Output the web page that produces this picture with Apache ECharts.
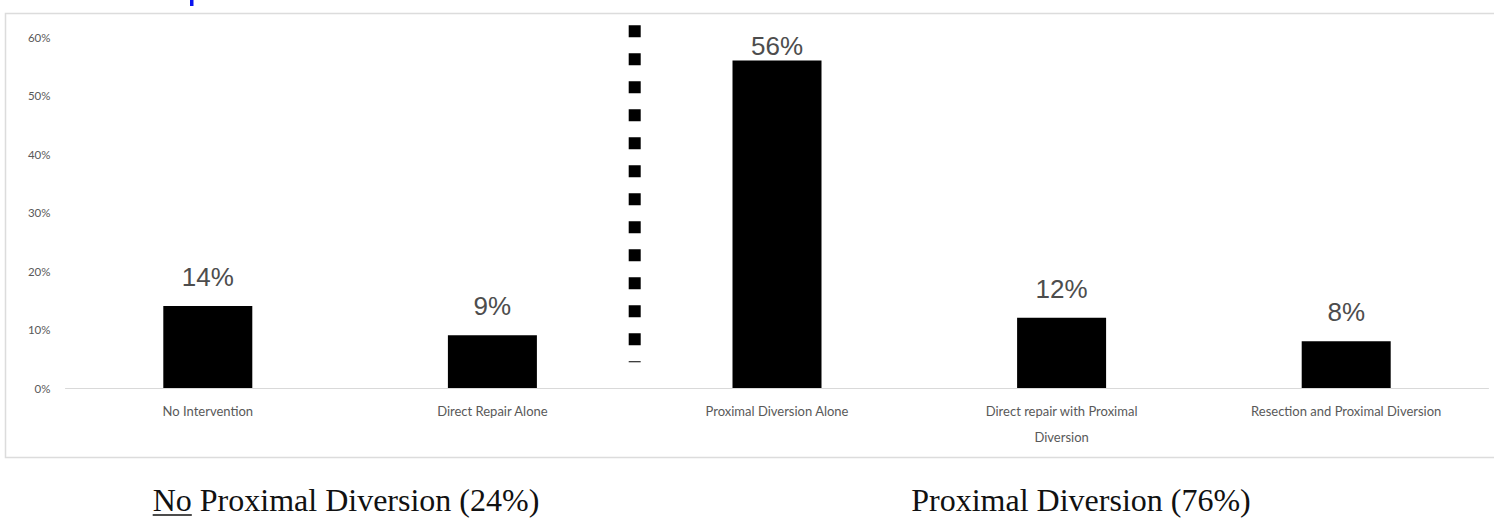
<!DOCTYPE html>
<html>
<head>
<meta charset="utf-8">
<title>Management of injuries</title>
<script src="https://cdn.jsdelivr.net/npm/echarts@6/dist/echarts.min.js"></script>
<style>
  html, body { margin: 0; padding: 0; background: #ffffff; }
  #chart { width: 1494px; height: 519px; }
</style>
</head>
<body>
<div id="chart"></div>
<script>
// Treatment categories (left two: no proximal diversion, right three: proximal diversion)
const categories = [
  'No Intervention',
  'Direct Repair Alone',
  'Proximal Diversion Alone',
  'Direct repair with Proximal\nDiversion',
  'Resection and Proximal Diversion'
];
// Share of patients per treatment, in percent
const shares = [14, 9, 56, 12, 8];
// Y axis scale, in percent
const yTicks = { min: 0, max: 60, interval: 10 };
// Group divider: drawn after this category index, spanning these percent values
const dividerAfter = 1;
const dividerSpan = [62, 4.4];
// Group captions below the chart
const groupCaptions = [
  { lead: 'No', rest: ' Proximal Diversion (24%)' },
  { lead: '', rest: 'Proximal Diversion (76%)' }
];

const chart = echarts.init(document.getElementById('chart'), null, { renderer: 'svg' });

const labelGray = '#595959';
const captionFont = '32px "Liberation Serif", "Times New Roman", serif';

// Width of caption text, used to place the underline of the lead word
function measure(text, font) {
  const c = document.createElement('canvas').getContext('2d');
  c.font = font;
  return c.measureText(text).width;
}
const cap0Full = groupCaptions[0].lead + groupCaptions[0].rest;
const cap0Width = measure(cap0Full, captionFont);
const leadWidth = measure(groupCaptions[0].lead, captionFont);
const cap0Left = 346 - cap0Width / 2;

chart.setOption({
  animation: false,
  grid: { left: 65.5, right: 5.5, top: 37, bottom: 131 },
  xAxis: {
    type: 'category',
    data: categories,
    axisLine: { lineStyle: { color: '#d9d9d9', width: 1 } },
    axisTick: { show: false },
    axisLabel: {
      interval: 0,
      margin: 10,
      color: labelGray,
      fontFamily: 'Lato, "Open Sans", sans-serif',
      fontSize: 13,
      lineHeight: 26
    }
  },
  yAxis: {
    type: 'value',
    min: yTicks.min,
    max: yTicks.max,
    interval: yTicks.interval,
    splitLine: { show: false },
    axisLine: { show: false },
    axisTick: { show: false },
    axisLabel: {
      formatter: '{value}%',
      margin: 15,
      color: labelGray,
      fontFamily: 'Lato, "Open Sans", sans-serif',
      fontSize: 11.5
    }
  },
  series: [
    {
      type: 'bar',
      data: shares.map(function (v) {
        // the tallest bar keeps its label close to the top edge
        return v === Math.max.apply(null, shares)
          ? { value: v, label: { distance: 1 } }
          : v;
      }),
      barWidth: 89,
      itemStyle: { color: '#000000' },
      label: {
        show: true,
        position: 'top',
        distance: 16,
        formatter: '{c}%',
        color: '#4d4d4d',
        fontFamily: '"Liberation Sans", Arial, sans-serif',
        fontSize: 26
      }
    },
    {
      type: 'custom',
      silent: true,
      clip: false,
      data: [[dividerAfter, dividerSpan[0], dividerSpan[1]]],
      encode: { x: 0, y: [1, 2] },
      renderItem: function (params, api) {
        const idx = api.value(0);
        const half = api.size([1, 0])[0] / 2;
        const top = api.coord([idx, api.value(1)]);
        const bottom = api.coord([idx, api.value(2)]);
        return {
          type: 'line',
          shape: { x1: top[0] + half, y1: top[1], x2: top[0] + half, y2: bottom[1] },
          style: { stroke: '#000000', lineWidth: 12, lineDash: [12, 16], lineCap: 'butt' }
        };
      }
    }
  ],
  graphic: [
    {
      type: 'rect',
      silent: true,
      shape: { x: 5.5, y: 13.5, width: 1500, height: 444 },
      style: { fill: 'none', stroke: '#dcdcdc', lineWidth: 1.5 }
    },
    {
      // tail of the heading above the chart
      type: 'rect',
      silent: true,
      shape: { x: 190, y: 0, width: 3.5, height: 6 },
      style: { fill: '#0a14f0' }
    },
    {
      type: 'text',
      silent: true,
      style: {
        text: cap0Full, x: 346, y: 500,
        font: captionFont, fill: '#111111',
        textAlign: 'center', textVerticalAlign: 'middle'
      }
    },
    {
      type: 'line',
      silent: true,
      shape: { x1: cap0Left, y1: 515, x2: cap0Left + leadWidth, y2: 515 },
      style: { stroke: '#111111', lineWidth: 1.5 }
    },
    {
      type: 'text',
      silent: true,
      style: {
        text: groupCaptions[1].lead + groupCaptions[1].rest, x: 1081, y: 500,
        font: captionFont, fill: '#111111',
        textAlign: 'center', textVerticalAlign: 'middle'
      }
    }
  ]
});
</script>
</body>
</html>
